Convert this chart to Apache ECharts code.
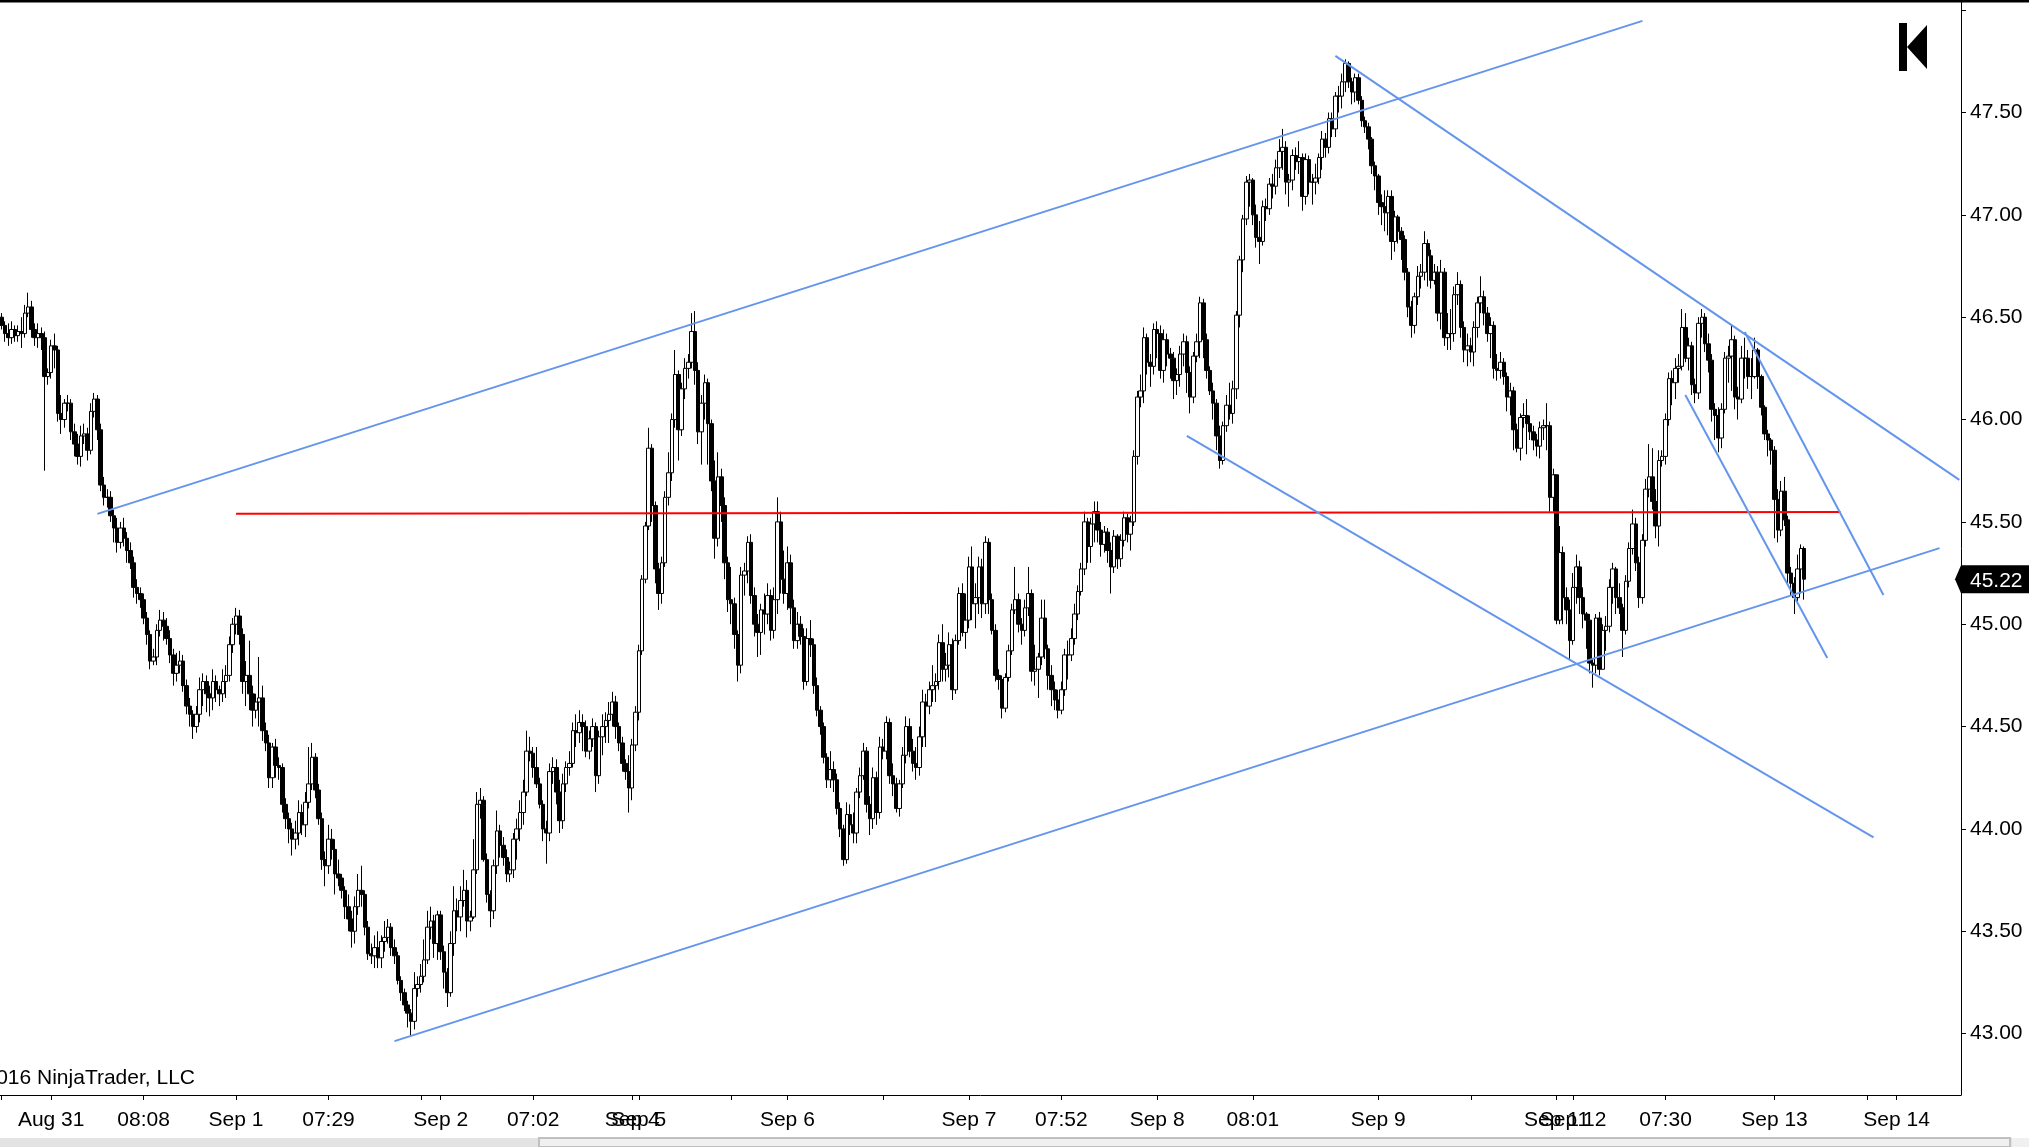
<!DOCTYPE html>
<html><head><meta charset="utf-8">
<style>html,body{margin:0;padding:0;background:#fff}#c{width:2029px;height:1147px}</style>
<script src="https://cdn.jsdelivr.net/npm/echarts@6/dist/echarts.min.js"></script>
</head><body><div id="c"></div>
<script>
const opens = [
46.50,46.46,46.42,46.40,46.44,46.41,46.43,46.42,46.52,46.55,
46.44,46.40,46.42,46.40,46.21,46.23,46.36,46.34,46.03,46.00,
46.08,46.08,45.94,45.88,45.82,45.92,45.93,45.85,46.04,46.10,
45.95,45.68,45.62,45.62,45.53,45.47,45.40,45.47,45.42,45.36,
45.30,45.18,45.15,45.12,45.03,44.95,44.82,44.84,44.97,45.02,
44.99,44.93,44.85,44.76,44.80,44.82,44.70,44.60,44.56,44.50,
44.56,44.68,44.72,44.66,44.64,44.72,44.68,44.66,44.72,44.75,
44.90,45.00,45.04,44.95,44.72,44.75,44.66,44.58,44.62,44.64,
44.48,44.42,44.25,44.40,44.31,44.30,44.12,44.05,44.00,43.95,
43.98,44.08,44.02,44.13,44.22,44.35,44.19,44.05,43.85,43.82,
43.95,43.90,43.78,43.76,43.70,43.62,43.56,43.50,43.62,43.70,
43.68,43.52,43.39,43.38,43.42,43.37,43.45,43.47,43.52,43.42,
43.38,43.26,43.20,43.14,43.10,43.06,43.22,43.24,43.28,43.36,
43.52,43.55,43.44,43.58,43.40,43.30,43.20,43.44,43.60,43.57,
43.65,43.70,43.55,43.57,43.80,44.12,44.14,43.85,43.68,43.60,
43.82,43.99,43.92,43.86,43.78,43.80,43.95,44.00,44.08,44.18,
44.38,44.37,44.30,44.22,44.12,44.00,43.98,44.28,44.30,44.18,
44.04,44.22,44.30,44.32,44.48,44.47,44.52,44.50,44.38,44.44,
44.50,44.26,44.45,44.50,44.53,44.56,44.62,44.50,44.42,44.32,
44.28,44.20,44.41,44.57,44.87,45.22,45.48,45.86,45.58,45.27,
45.15,45.30,45.62,45.74,46.00,46.22,45.95,46.15,46.25,46.28,
46.43,46.24,45.94,46.08,46.18,45.98,45.70,45.42,45.72,45.58,
45.30,45.12,45.10,44.95,44.80,45.24,45.26,45.40,45.14,45.00,
44.96,45.07,45.05,45.14,44.97,45.12,45.50,45.22,45.15,45.30,
45.08,44.92,45.00,44.94,44.72,44.93,44.90,44.70,44.58,44.50,
44.35,44.24,44.29,44.24,44.10,44.00,43.85,44.07,44.02,43.98,
44.18,44.26,44.38,44.12,44.05,44.25,44.08,44.40,44.38,44.52,
44.26,44.22,44.10,44.22,44.36,44.50,44.38,44.32,44.30,44.45,
44.62,44.60,44.68,44.70,44.72,44.91,44.78,44.80,44.90,44.68,
44.92,45.15,44.96,45.02,45.28,45.10,45.13,45.28,45.10,45.40,
45.12,44.97,44.75,44.73,44.59,44.74,44.87,45.07,45.12,45.00,
44.97,45.08,45.15,44.77,44.78,44.84,45.03,44.88,44.75,44.68,
44.63,44.58,44.68,44.85,44.85,44.93,45.05,45.16,45.27,45.50,
45.38,45.49,45.55,45.46,45.39,45.45,45.36,45.28,45.43,45.32,
45.41,45.52,45.44,45.50,45.82,46.11,46.14,46.40,46.28,46.26,
46.44,46.42,46.24,46.39,46.32,46.30,46.19,46.22,46.32,46.38,
46.23,46.11,46.31,46.38,46.57,46.39,46.24,46.14,46.08,45.92,
45.80,45.97,46.07,46.03,46.15,46.51,46.78,46.98,47.16,47.17,
47.00,46.89,46.87,47.04,47.03,47.15,47.14,47.23,47.31,47.33,
47.16,47.17,47.29,47.26,47.28,47.09,47.27,47.16,47.16,47.18,
47.28,47.37,47.33,47.47,47.42,47.58,47.58,47.65,47.74,47.65,
47.60,47.67,47.56,47.46,47.43,47.37,47.24,47.19,47.06,47.04,
47.01,47.09,46.87,46.99,46.92,46.88,46.72,46.55,46.46,46.60,
46.70,46.72,46.86,46.80,46.68,46.72,46.52,46.72,46.40,46.42,
46.42,46.61,46.66,46.45,46.34,46.36,46.33,46.45,46.57,46.60,
46.52,46.42,46.46,46.25,46.24,46.28,46.21,46.11,46.14,45.95,
45.86,46.01,46.02,45.98,45.94,45.90,45.87,45.96,45.97,45.97,
45.62,45.73,45.02,45.35,45.13,45.07,44.92,45.18,45.28,45.13,
45.05,45.02,44.81,44.80,45.03,44.78,44.97,44.99,45.18,45.27,
45.13,45.08,44.97,45.21,45.37,45.49,45.30,45.13,45.41,45.66,
45.72,45.60,45.48,45.80,45.82,46.00,46.20,46.18,46.25,46.26,
46.45,46.30,46.36,46.17,46.13,46.47,46.50,46.37,46.29,46.05,
46.02,45.91,46.05,46.30,46.31,46.39,46.11,46.10,46.30,46.30,
46.21,46.21,46.34,46.21,46.06,45.93,45.90,45.85,45.61,45.46,
45.65,45.51,45.25,45.20,45.13,45.27,45.37];
const closes = [
46.46,46.42,46.40,46.44,46.41,46.43,46.42,46.52,46.55,46.44,
46.40,46.42,46.40,46.21,46.23,46.36,46.34,46.03,46.00,46.08,
46.08,45.94,45.88,45.82,45.92,45.93,45.85,46.04,46.10,45.95,
45.68,45.62,45.62,45.53,45.47,45.40,45.47,45.42,45.36,45.30,
45.18,45.15,45.12,45.03,44.95,44.82,44.84,44.97,45.02,44.99,
44.93,44.85,44.76,44.80,44.82,44.70,44.60,44.56,44.50,44.56,
44.68,44.72,44.66,44.64,44.72,44.68,44.66,44.72,44.75,44.90,
45.00,45.04,44.95,44.72,44.75,44.66,44.58,44.62,44.64,44.48,
44.42,44.25,44.40,44.31,44.30,44.12,44.05,44.00,43.95,43.98,
44.08,44.02,44.13,44.22,44.35,44.19,44.05,43.85,43.82,43.95,
43.90,43.78,43.76,43.70,43.62,43.56,43.50,43.62,43.70,43.68,
43.52,43.39,43.38,43.42,43.37,43.45,43.47,43.52,43.42,43.38,
43.26,43.20,43.14,43.10,43.06,43.22,43.24,43.28,43.36,43.52,
43.55,43.44,43.58,43.40,43.30,43.20,43.44,43.60,43.57,43.65,
43.70,43.55,43.57,43.80,44.12,44.14,43.85,43.68,43.60,43.82,
43.99,43.92,43.86,43.78,43.80,43.95,44.00,44.08,44.18,44.38,
44.37,44.30,44.22,44.12,44.00,43.98,44.28,44.30,44.18,44.04,
44.22,44.30,44.32,44.48,44.47,44.52,44.50,44.38,44.44,44.50,
44.26,44.45,44.50,44.53,44.56,44.62,44.50,44.42,44.32,44.28,
44.20,44.41,44.57,44.87,45.22,45.48,45.86,45.58,45.27,45.15,
45.30,45.62,45.74,46.00,46.22,45.95,46.15,46.25,46.28,46.43,
46.24,45.94,46.08,46.18,45.98,45.70,45.42,45.72,45.58,45.30,
45.12,45.10,44.95,44.80,45.24,45.26,45.40,45.14,45.00,44.96,
45.07,45.05,45.14,44.97,45.12,45.50,45.22,45.15,45.30,45.08,
44.92,45.00,44.94,44.72,44.93,44.90,44.70,44.58,44.50,44.35,
44.24,44.29,44.24,44.10,44.00,43.85,44.07,44.02,43.98,44.18,
44.26,44.38,44.12,44.05,44.25,44.08,44.40,44.38,44.52,44.26,
44.22,44.10,44.22,44.36,44.50,44.38,44.32,44.30,44.45,44.62,
44.60,44.68,44.70,44.72,44.91,44.78,44.80,44.90,44.68,44.92,
45.15,44.96,45.02,45.28,45.10,45.13,45.28,45.10,45.40,45.12,
44.97,44.75,44.73,44.59,44.74,44.87,45.07,45.12,45.00,44.97,
45.08,45.15,44.77,44.78,44.84,45.03,44.88,44.75,44.68,44.63,
44.58,44.68,44.85,44.85,44.93,45.05,45.16,45.27,45.50,45.38,
45.49,45.55,45.46,45.39,45.45,45.36,45.28,45.43,45.32,45.41,
45.52,45.44,45.50,45.82,46.11,46.14,46.40,46.28,46.26,46.44,
46.42,46.24,46.39,46.32,46.30,46.19,46.22,46.32,46.38,46.23,
46.11,46.31,46.38,46.57,46.39,46.24,46.14,46.08,45.92,45.80,
45.97,46.07,46.03,46.15,46.51,46.78,46.98,47.16,47.17,47.00,
46.89,46.87,47.04,47.03,47.15,47.14,47.23,47.31,47.33,47.16,
47.17,47.29,47.26,47.28,47.09,47.27,47.16,47.16,47.18,47.28,
47.37,47.33,47.47,47.42,47.58,47.58,47.65,47.74,47.65,47.60,
47.67,47.56,47.46,47.43,47.37,47.24,47.19,47.06,47.04,47.01,
47.09,46.87,46.99,46.92,46.88,46.72,46.55,46.46,46.60,46.70,
46.72,46.86,46.80,46.68,46.72,46.52,46.72,46.40,46.42,46.42,
46.61,46.66,46.45,46.34,46.36,46.33,46.45,46.57,46.60,46.52,
46.42,46.46,46.25,46.24,46.28,46.21,46.11,46.14,45.95,45.86,
46.01,46.02,45.98,45.94,45.90,45.87,45.96,45.97,45.97,45.62,
45.73,45.02,45.35,45.13,45.07,44.92,45.18,45.28,45.13,45.05,
45.02,44.81,44.80,45.03,44.78,44.97,44.99,45.18,45.27,45.13,
45.08,44.97,45.21,45.37,45.49,45.30,45.13,45.41,45.66,45.72,
45.60,45.48,45.80,45.82,46.00,46.20,46.18,46.25,46.26,46.45,
46.30,46.36,46.17,46.13,46.47,46.50,46.37,46.29,46.05,46.02,
45.91,46.05,46.30,46.31,46.39,46.11,46.10,46.30,46.30,46.21,
46.21,46.34,46.21,46.06,45.93,45.90,45.85,45.61,45.46,45.65,
45.51,45.25,45.20,45.13,45.27,45.37,45.22];
const lows = [
46.44,46.38,46.36,46.37,46.38,46.38,46.35,46.40,46.50,46.40,
46.36,46.35,46.34,45.75,46.17,46.20,46.25,45.99,45.93,45.96,
46.04,45.90,45.82,45.78,45.77,45.88,45.80,45.83,46.01,45.90,
45.65,45.58,45.57,45.50,45.40,45.35,45.37,45.38,45.30,45.27,
45.13,45.10,45.08,45.00,44.90,44.78,44.80,44.80,44.94,44.92,
44.90,44.81,44.70,44.72,44.76,44.67,44.56,44.50,44.44,44.47,
44.52,44.60,44.57,44.55,44.58,44.62,44.60,44.62,44.64,44.72,
44.86,44.95,44.90,44.66,44.60,44.58,44.50,44.54,44.50,44.43,
44.38,44.20,44.20,44.25,44.24,44.08,44.00,43.93,43.87,43.90,
43.92,43.97,43.96,44.10,44.19,44.15,44.02,43.80,43.72,43.78,
43.85,43.68,43.72,43.66,43.56,43.50,43.42,43.44,43.58,43.62,
43.48,43.36,43.34,43.32,43.32,43.32,43.40,43.44,43.38,43.34,
43.24,43.16,43.11,43.03,42.99,43.02,43.18,43.20,43.25,43.34,
43.46,43.37,43.36,43.36,43.22,43.13,43.18,43.38,43.50,43.50,
43.62,43.47,43.50,43.56,43.78,44.05,43.84,43.64,43.52,43.56,
43.78,43.86,43.82,43.74,43.74,43.76,43.85,43.94,44.02,44.16,
44.33,44.25,44.20,44.10,43.94,43.83,43.94,44.22,44.12,43.98,
44.00,44.18,44.26,44.30,44.40,44.42,44.38,44.35,44.34,44.40,
44.18,44.22,44.36,44.42,44.42,44.50,44.44,44.38,44.28,44.24,
44.08,44.14,44.38,44.53,44.85,45.20,45.46,45.50,45.20,45.07,
45.10,45.28,45.58,45.70,45.96,45.80,45.92,46.10,46.20,46.25,
46.17,45.88,45.78,46.00,45.78,45.65,45.32,45.38,45.50,45.22,
45.06,45.00,44.88,44.72,44.76,45.14,45.20,45.10,44.94,44.84,
44.85,44.95,45.00,44.92,44.93,45.05,45.15,45.10,45.07,45.00,
44.88,44.88,44.90,44.68,44.70,44.84,44.66,44.55,44.46,44.32,
44.20,44.20,44.18,44.07,43.96,43.82,43.83,43.97,43.93,43.93,
44.15,44.24,44.08,43.97,44.00,44.02,44.05,44.34,44.34,44.22,
44.16,44.08,44.06,44.20,44.32,44.35,44.28,44.24,44.26,44.40,
44.40,44.56,44.62,44.62,44.68,44.72,44.72,44.74,44.63,44.66,
44.90,44.94,44.88,44.98,45.02,44.98,45.05,45.03,45.05,45.05,
44.95,44.72,44.68,44.54,44.57,44.72,44.85,45.05,44.96,44.90,
44.94,45.04,44.72,44.70,44.64,44.80,44.83,44.68,44.60,44.58,
44.54,44.56,44.65,44.73,44.82,44.90,45.02,45.14,45.24,45.30,
45.30,45.40,45.40,45.33,45.35,45.30,45.15,45.25,45.27,45.28,
45.38,45.40,45.36,45.48,45.78,46.06,46.08,46.22,46.16,46.22,
46.30,46.20,46.18,46.26,46.20,46.10,46.12,46.16,46.26,46.13,
46.03,46.08,46.28,46.30,46.30,46.20,46.12,46.00,45.85,45.76,
45.78,45.94,46.00,45.98,46.10,46.45,46.72,46.95,47.04,46.95,
46.84,46.76,46.85,46.97,47.00,47.08,47.10,47.18,47.22,47.10,
47.04,47.12,47.22,47.20,47.02,47.05,47.10,47.05,47.10,47.15,
47.22,47.28,47.30,47.38,47.38,47.50,47.52,47.60,47.62,47.54,
47.55,47.54,47.43,47.40,47.32,47.20,47.12,47.00,46.95,46.92,
46.90,46.78,46.82,46.86,46.78,46.68,46.50,46.40,46.42,46.56,
46.64,46.68,46.65,46.64,46.66,46.48,46.44,46.36,46.34,46.34,
46.38,46.56,46.40,46.28,46.26,46.28,46.26,46.40,46.52,46.46,
46.38,46.30,46.20,46.19,46.20,46.17,46.04,46.02,45.85,45.84,
45.80,45.96,45.83,45.90,45.85,45.82,45.81,45.90,45.85,45.55,
45.55,45.00,45.00,45.00,45.00,44.83,44.90,45.10,45.05,44.98,
44.88,44.76,44.69,44.76,44.75,44.78,44.87,44.96,45.10,45.05,
45.05,44.84,44.95,45.18,45.34,45.26,45.08,45.10,45.38,45.62,
45.56,45.42,45.38,45.77,45.78,45.97,46.07,46.10,46.18,46.24,
46.28,46.24,46.12,46.08,46.10,46.40,46.33,46.23,45.99,45.90,
45.84,45.86,46.03,46.18,46.14,46.05,46.00,46.08,46.20,46.15,
46.10,46.20,46.15,46.02,45.90,45.82,45.78,45.42,45.40,45.43,
45.48,45.20,45.14,45.05,45.11,45.15,45.12];
const highs = [
46.52,46.48,46.47,46.48,46.46,46.46,46.50,46.56,46.62,46.58,
46.47,46.47,46.45,46.43,46.25,46.39,46.42,46.36,46.12,46.10,
46.12,46.10,45.98,45.93,45.97,45.98,45.96,46.08,46.13,46.12,
45.98,45.72,45.66,45.65,45.56,45.52,45.50,45.52,45.45,45.40,
45.33,45.22,45.18,45.15,45.06,44.97,44.88,45.00,45.07,45.06,
45.03,44.97,44.88,44.86,44.87,44.85,44.73,44.64,44.58,44.60,
44.74,44.76,44.75,44.70,44.78,44.75,44.70,44.78,44.80,44.94,
45.03,45.08,45.07,44.98,44.82,44.92,44.70,44.66,44.84,44.70,
44.52,44.46,44.42,44.44,44.35,44.32,44.15,44.08,44.03,44.04,
44.14,44.12,44.18,44.40,44.42,44.37,44.22,44.08,43.89,44.02,
44.00,43.95,43.85,43.78,43.72,43.68,43.60,43.67,43.78,43.82,
43.70,43.55,43.44,43.48,43.50,43.48,43.55,43.56,43.54,43.46,
43.40,43.28,43.22,43.16,43.12,43.30,43.28,43.34,43.46,43.60,
43.62,43.58,43.60,43.60,43.43,43.32,43.50,43.72,43.66,43.72,
43.80,43.75,43.60,43.95,44.18,44.20,44.16,43.88,43.70,43.85,
44.09,44.02,43.96,43.90,43.84,43.98,44.05,44.14,44.24,44.48,
44.45,44.40,44.40,44.25,44.14,44.04,44.32,44.35,44.34,44.24,
44.27,44.33,44.38,44.52,44.56,44.58,44.56,44.53,44.48,44.54,
44.52,44.48,44.56,44.57,44.62,44.67,44.65,44.52,44.45,44.34,
44.36,44.44,44.60,44.90,45.24,45.50,45.96,45.88,45.60,45.30,
45.33,45.65,45.84,46.03,46.34,46.24,46.18,46.30,46.32,46.52,
46.53,46.28,46.12,46.22,46.20,46.00,45.80,45.84,45.76,45.62,
45.33,45.28,45.13,44.97,45.28,45.30,45.43,45.44,45.18,45.05,
45.10,45.15,45.20,45.17,45.18,45.62,45.55,45.36,45.38,45.34,
45.12,45.06,45.04,44.98,44.98,45.02,44.93,44.74,44.60,44.52,
44.37,44.38,44.33,44.27,44.13,44.02,44.13,44.12,44.08,44.20,
44.30,44.42,44.40,44.16,44.30,44.28,44.45,44.44,44.55,44.54,
44.32,44.25,44.24,44.40,44.55,44.54,44.44,44.40,44.50,44.68,
44.66,44.72,44.80,44.76,44.95,45.00,44.86,44.96,44.93,44.95,
45.18,45.20,45.15,45.33,45.38,45.20,45.33,45.32,45.43,45.42,
45.15,45.00,44.78,44.75,44.76,44.90,45.10,45.28,45.15,45.03,
45.12,45.28,45.17,44.90,44.86,45.12,45.12,44.90,44.80,44.72,
44.68,44.72,44.88,44.92,44.98,45.10,45.19,45.30,45.55,45.52,
45.52,45.60,45.60,45.50,45.48,45.47,45.40,45.46,45.44,45.44,
45.55,45.54,45.53,45.85,46.14,46.22,46.45,46.42,46.32,46.47,
46.48,46.46,46.44,46.42,46.35,46.33,46.25,46.36,46.42,46.41,
46.26,46.33,46.42,46.60,46.59,46.42,46.26,46.18,46.10,45.97,
45.99,46.12,46.18,46.19,46.53,46.80,47.00,47.19,47.20,47.18,
47.05,46.97,47.07,47.08,47.18,47.20,47.27,47.37,47.42,47.36,
47.20,47.32,47.33,47.36,47.30,47.30,47.29,47.20,47.25,47.30,
47.41,47.40,47.50,47.50,47.60,47.63,47.69,47.76,47.75,47.67,
47.69,47.69,47.58,47.48,47.45,47.38,47.26,47.20,47.10,47.12,
47.12,47.12,47.02,47.00,46.94,46.90,46.74,46.58,46.62,46.75,
46.76,46.92,46.88,46.83,46.76,46.75,46.78,46.74,46.52,46.54,
46.65,46.72,46.68,46.48,46.42,46.40,46.48,46.60,46.70,46.63,
46.55,46.50,46.48,46.32,46.33,46.30,46.23,46.18,46.16,45.98,
46.03,46.08,46.10,46.02,45.97,45.93,45.99,46.00,46.08,45.99,
45.76,45.66,45.48,45.38,45.18,45.12,45.25,45.34,45.31,45.18,
45.06,45.05,44.83,45.05,45.06,45.00,45.04,45.22,45.30,45.28,
45.20,45.10,45.24,45.40,45.56,45.52,45.33,45.44,45.71,45.88,
45.86,45.66,45.85,45.85,46.03,46.23,46.24,46.30,46.32,46.54,
46.52,46.40,46.38,46.20,46.50,46.54,46.52,46.42,46.32,46.08,
46.06,46.08,46.33,46.36,46.46,46.41,46.16,46.36,46.40,46.34,
46.30,46.40,46.35,46.22,46.07,45.95,45.91,45.87,45.66,45.70,
45.72,45.53,45.28,45.23,45.34,45.39,45.38];

const categoryCount = 594;
const tickIndex = [0,15,43,71,99,127,133,161,191,193,221,238,267,293,321,350,379,417,445,471,476,504,537,565,574];
const tickLabels = ["","Aug 31","08:08","Sep 1","07:29","","Sep 2","07:02","Sep 4","Sep 5","","Sep 6","","Sep 7","07:52","Sep 8","08:01","Sep 9","","Sep 11","Sep 12","07:30","Sep 13","","Sep 14"];
const priceLabels = [43,43.5,44,44.5,45,45.5,46,46.5,47,47.5];
const priceTicks = [43,43.5,44,44.5,45,45.5,46,46.5,47,47.5,48];
const lastPrice = 45.22;
const blueLines = [
  [[29,45.539],[497,47.948]],
  [[119,42.963],[587,45.372]],
  [[404,47.777],[593,45.705]],
  [[359,45.92],[567,43.959]],
  [[528,46.428],[570,45.143]],
  [[510,46.12],[553,44.835]]
];
const redLine = [[71,45.54],[557,45.548]];

const categories = Array.from({length:categoryCount},(_,i)=>{const k=tickIndex.indexOf(i);return k>=0?tickLabels[k]:'';});
const tickSet = new Set(tickIndex);
const labelSet = new Set(tickIndex.filter((_,k)=>tickLabels[k]!==''));
const ohlc = closes.map((c,i)=>[opens[i],c,lows[i],highs[i]]);
const FONT = '"Liberation Sans", Arial, sans-serif';

const chart = echarts.init(document.getElementById('c'),null,{renderer:'canvas'});
chart.setOption({
  animation:false,
  backgroundColor:'#fff',
  grid:{left:0,right:68,top:2,bottom:52,containLabel:false},
  xAxis:{type:'category',data:categories,boundaryGap:true,
    axisLine:{show:true,onZero:false,lineStyle:{color:'#000',width:1}},
    axisTick:{show:true,length:5,alignWithLabel:true,interval:i=>tickSet.has(i),lineStyle:{color:'#000',width:1}},
    axisLabel:{show:true,interval:i=>labelSet.has(i),color:'#000',fontFamily:FONT,fontSize:21,margin:15,hideOverlap:false},
    splitLine:{show:false}},
  yAxis:{type:'value',position:'right',min:42.70,max:48.04,scale:true,
    axisLine:{show:true,onZero:false,lineStyle:{color:'#000',width:1}},
    axisTick:{show:true,length:5,customValues:priceTicks,lineStyle:{color:'#000',width:1}},
    axisLabel:{show:true,customValues:priceLabels,color:'#000',fontFamily:FONT,fontSize:21,margin:9,padding:[4,0,0,0],formatter:v=>v.toFixed(2),showMinLabel:true,showMaxLabel:true},
    splitLine:{show:false}},
  series:[
    {type:'candlestick',data:ohlc,barWidth:4,silent:true,z:2,
     itemStyle:{color:'#fff',color0:'#000',borderColor:'#000',borderColor0:'#000',borderColorDoji:'#000',borderWidth:1}},
    {type:'line',data:redLine,symbol:'none',silent:true,z:4,lineStyle:{color:'#ff0000',width:2}},
    ...blueLines.map(d=>({type:'line',data:d,symbol:'none',silent:true,z:5,lineStyle:{color:'#6495ed',width:2}}))
  ]
});
const tagY = chart.convertToPixel({yAxisIndex:0},lastPrice);
chart.setOption({graphic:[
  {type:'rect',shape:{x:0,y:0,width:2029,height:2.5},style:{fill:'#000'},z:50},
  {type:'rect',shape:{x:1899,y:23,width:8,height:48},style:{fill:'#000'},z:50},
  {type:'polygon',shape:{points:[[1927,25],[1907,47],[1927,69]]},style:{fill:'#000'},z:50},
  {type:'text',style:{text:'\u00a9 2016 NinjaTrader, LLC',x:195,y:1078,align:'right',verticalAlign:'middle',fill:'#000',font:'21px '+FONT},z:50},
  {type:'polygon',shape:{points:[[1955,tagY],[1961,tagY-14],[2029,tagY-14],[2029,tagY+14],[1961,tagY+14]]},style:{fill:'#000'},z:50},
  {type:'text',style:{text:lastPrice.toFixed(2),x:1970,y:tagY+2,align:'left',verticalAlign:'middle',fill:'#fff',font:'21px '+FONT},z:51},
  {type:'rect',shape:{x:0,y:1138,width:2029,height:9},style:{fill:'#e3e3e3'},z:50},
  {type:'rect',shape:{x:539,y:1138,width:1471,height:9},style:{fill:'#f0f0f0',stroke:'#c0c0c0',lineWidth:2},z:51},
  {type:'rect',shape:{x:2012,y:1138,width:17,height:9},style:{fill:'#f0f0f0'},z:51}
]});
</script></body></html>
